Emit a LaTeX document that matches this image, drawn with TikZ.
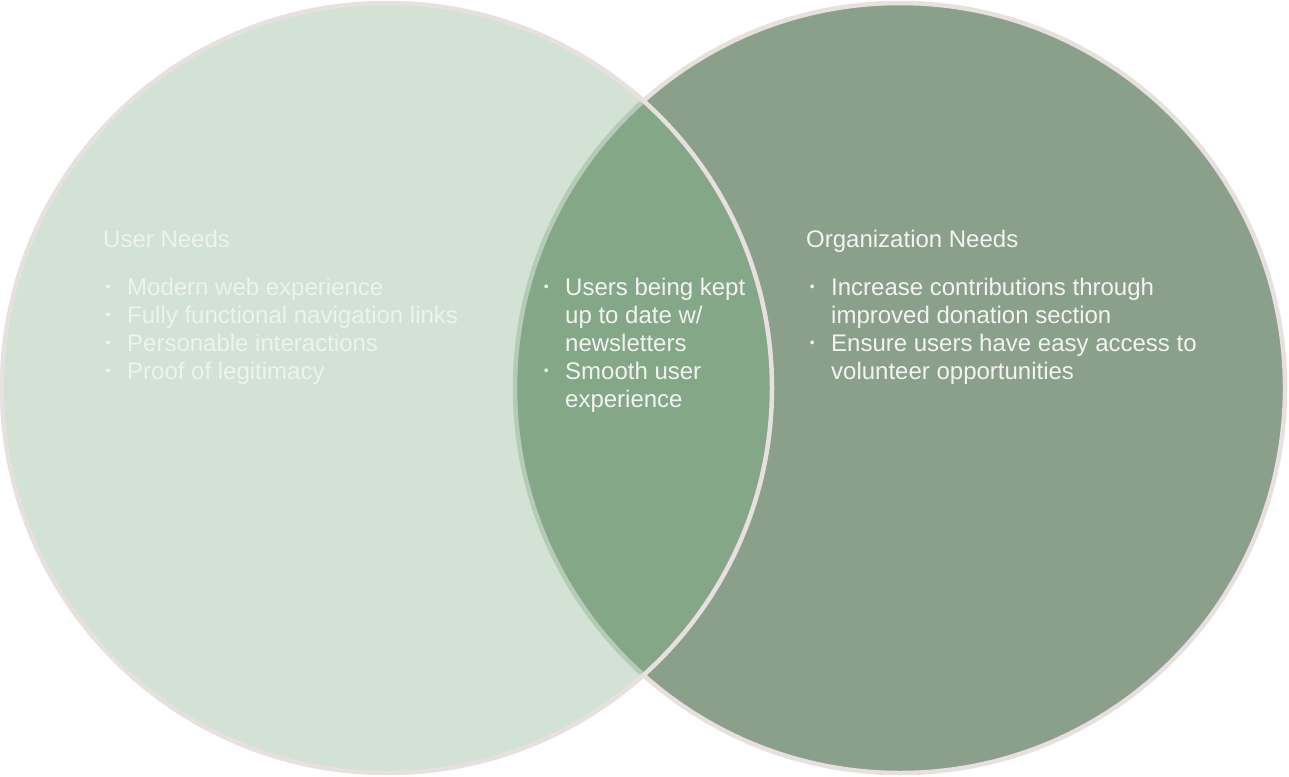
\documentclass[tikz,border=0pt]{standalone}
\usepackage{fontspec}
\setmainfont{Liberation Sans}
\definecolor{userfill}{HTML}{D2E3D5}
\definecolor{orgfill}{HTML}{8AA08B}
\definecolor{bothfill}{HTML}{84A887}
\definecolor{rim}{HTML}{E8DFDF}
\definecolor{faintrim}{HTML}{B6CAB8}
\definecolor{usertext}{HTML}{EDF3EE}
\definecolor{orgtext}{HTML}{F3F4F2}
\newcommand{\bul}{\llap{\raisebox{3.5pt}{\fontsize{14}{14}\selectfont •}\hspace{16.5pt}}}

\begin{document}
\begin{tikzpicture}[x=1pt,y=-1pt,
  rimline/.style={draw=rim,line width=4.5pt},
  head/.style={font=\fontsize{24}{28}\selectfont,inner sep=0pt,anchor=base west},
  items/.style={font=\fontsize{24}{28}\selectfont,inner sep=0pt,anchor=north west,align=left}]
\useasboundingbox (0,0) rectangle (1289,776);
\coordinate (user) at (387,388);
\coordinate (org) at (900,388);
% the two circles, user circle on top
\fill[orgfill] (org) circle[radius=385pt];
\draw[rimline] (org) circle[radius=385pt];
\fill[userfill] (user) circle[radius=385pt];
\begin{scope}
  \clip (user) circle[radius=385pt];
  \fill[bothfill] (org) circle[radius=385pt];
  \draw[faintrim,line width=4.5pt] (org) circle[radius=385pt];
\end{scope}
\draw[rimline] (user) circle[radius=385pt];
% texts
\node[head,text=usertext] (uhead) at (103,247) {User Needs};
\node[items,text=usertext] (ulist) at (127,275.4) {\strut\bul Modern web experience\\
  \bul Fully functional navigation links\\
  \bul Personable interactions\\
  \bul Proof of legitimacy};
\node[items,text=orgtext] (blist) at (565,275.4) {\strut\bul Users being kept\\
  up to date w/\\
  newsletters\\
  \bul Smooth user\\
  experience};
\node[head,text=orgtext] (ohead) at (806,247) {Organization Needs};
\node[items,text=orgtext] (olist) at (831,275.4) {\strut\bul Increase contributions through\\
  improved donation section\\
  \bul Ensure users have easy access to\\
  volunteer opportunities};
\end{tikzpicture}
\end{document}
